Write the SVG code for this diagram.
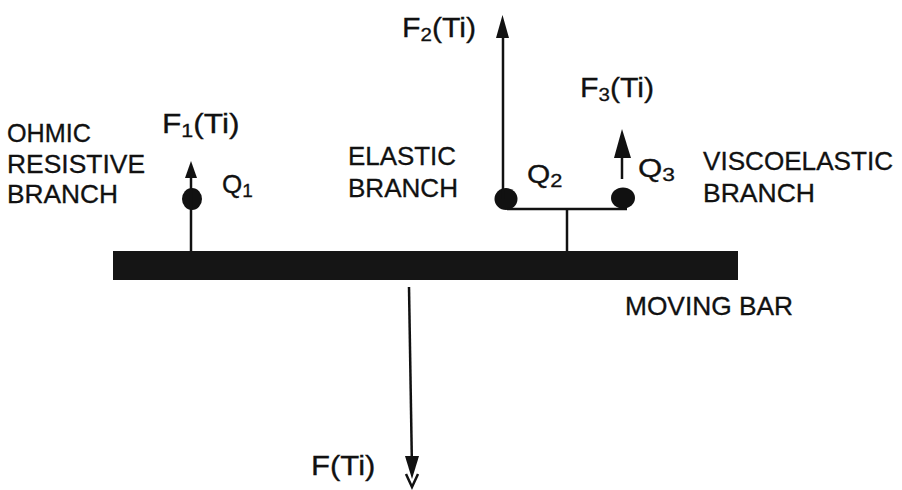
<svg xmlns="http://www.w3.org/2000/svg" width="902" height="490" viewBox="0 0 902 490">
<style>
text{font-family:"Liberation Sans",Arial,sans-serif;font-size:25px;fill:#111;stroke:#111;stroke-width:0.3}
.f{font-size:28px}
.q{font-size:26px}
.sub{font-size:19px}
.ln{stroke:#111;stroke-width:2.5;fill:none}
.dot{fill:#111}
</style>
<rect width="902" height="490" fill="#fff"/>
<g id="labels">
<text x="7" y="142" textLength="84" lengthAdjust="spacingAndGlyphs">OHMIC</text>
<text x="7" y="173" textLength="138" lengthAdjust="spacingAndGlyphs">RESISTIVE</text>
<text x="7" y="203" textLength="111" lengthAdjust="spacingAndGlyphs">BRANCH</text>
<text x="348" y="165" textLength="108" lengthAdjust="spacingAndGlyphs">ELASTIC</text>
<text x="348" y="197" textLength="110" lengthAdjust="spacingAndGlyphs">BRANCH</text>
<text x="703" y="170" textLength="190" lengthAdjust="spacingAndGlyphs">VISCOELASTIC</text>
<text x="703" y="202" textLength="112" lengthAdjust="spacingAndGlyphs">BRANCH</text>
<text x="625" y="315" textLength="168" lengthAdjust="spacingAndGlyphs">MOVING BAR</text>
</g>
<g id="bar">
<rect x="113" y="251" width="625" height="29" fill="#151515"/>
</g>
<g id="q1">
<ellipse class="dot" cx="192" cy="199" rx="10" ry="11"/>
<text class="q" transform="translate(222,193) scale(1,1)">Q<tspan class="sub" dy="4">1</tspan></text>
<text class="f" transform="translate(162,133) scale(1.13,1)">F<tspan class="sub" dy="4">1</tspan><tspan dy="-4">(Ti)</tspan></text>
</g>
<g id="q2">
<ellipse class="dot" cx="506" cy="199" rx="11.5" ry="11"/>
<text class="q" transform="translate(527,183) scale(1.15,1)">Q<tspan class="sub" dy="4">2</tspan></text>
<text class="f" transform="translate(402,37) scale(1.08,1)">F<tspan class="sub" dy="4">2</tspan><tspan dy="-4">(Ti)</tspan></text>
</g>
<g id="q3">
<ellipse class="dot" cx="623" cy="198" rx="12" ry="10.5"/>
<text class="q" transform="translate(638,177) scale(1.2,1)">Q<tspan class="sub" dy="4">3</tspan></text>
<text class="f" transform="translate(580,97) scale(1.08,1)">F<tspan class="sub" dy="4">3</tspan><tspan dy="-4">(Ti)</tspan></text>
</g>
<g id="force">
<text class="f" transform="translate(311,475) scale(1.11,1)">F(Ti)</text>
</g>
<g id="connectors">
<line class="ln" x1="191" y1="251" x2="191" y2="176"/>
<polygon points="185,178 197,178 191,161" fill="#111"/>
<line class="ln" x1="503" y1="199" x2="503" y2="36"/>
<polygon points="496,38 509,38 502.5,15" fill="#111"/>
<line class="ln" x1="622" y1="179" x2="622" y2="156"/>
<polygon points="614,158 631,158 622,129" fill="#111"/>
<polyline class="ln" points="507,209 627,209"/>
<line class="ln" x1="567" y1="209" x2="567" y2="251"/>
<line class="ln" x1="409" y1="287" x2="412" y2="470"/>
<polygon points="405,456 419,456 412,479" fill="#111"/>
<polyline class="ln" points="406,474 412,487 418,474"/>
</g>
</svg>
